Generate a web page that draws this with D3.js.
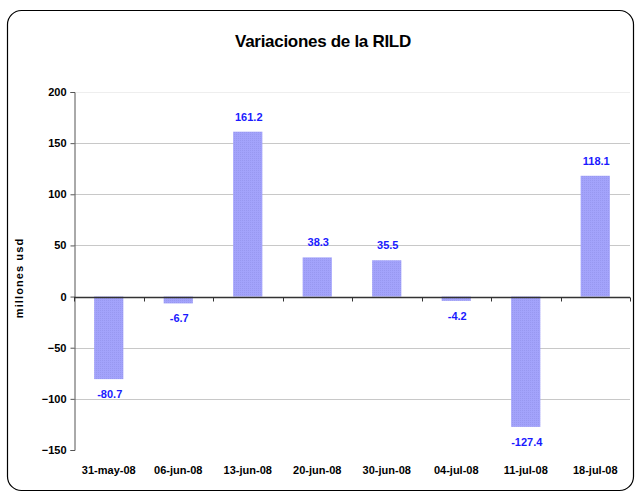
<!DOCTYPE html>
<html><head><meta charset="utf-8">
<script src="https://cdn.jsdelivr.net/npm/d3@7"></script>
<style>body{margin:0;background:#fff;}svg{display:block;font-family:Arial,"Liberation Sans",sans-serif;}</style>
</head><body>
<svg id="c" width="635" height="492"></svg>
<script>
const categories = ["31-may-08","06-jun-08","13-jun-08","20-jun-08","30-jun-08","04-jul-08","11-jul-08","18-jul-08"];
const values = [-80.7,-6.7,161.2,38.3,35.5,-4.2,-127.4,118.1];
const yTicks = [-150,-100,-50,0,50,100,150,200];

const svg = d3.select("#c");
const defs = svg.append("defs");
const pat = defs.append("pattern").attr("id","dots").attr("width",2).attr("height",2).attr("patternUnits","userSpaceOnUse");
pat.append("rect").attr("width",2).attr("height",2).attr("fill","#a3a3fb");
pat.append("rect").attr("width",1).attr("height",1).attr("fill","#9898f0");

svg.append("rect").attr("x",7.5).attr("y",10.5).attr("width",626).attr("height",480)
  .attr("rx",14).attr("fill","#fff").attr("stroke","#000").attr("stroke-width",1.2);

const x = d3.scaleBand().domain(categories).range([74,630]).paddingInner(0.58).paddingOuter(0.29);
const y = d3.scaleLinear().domain([-150,200]).range([450,92]);

svg.append("text").attr("x",323).attr("y",47).attr("text-anchor","middle")
  .attr("font-size",17).attr("font-weight","bold").attr("letter-spacing",-0.3).text("Variaciones de la RILD");

// gridlines
svg.append("g").selectAll("line").data(yTicks.filter(d=>d!==0 && d!==-150)).join("line")
  .attr("x1",74).attr("x2",630).attr("y1",d=>Math.round(y(d))+0.5).attr("y2",d=>Math.round(y(d))+0.5)
  .attr("stroke",d=>d===200?"#eeeeee":"#c8c8c8").attr("stroke-width",1);

// y axis
const ya = svg.append("g").attr("transform","translate(74.5,0)")
  .call(d3.axisLeft(y).tickValues(yTicks).tickSize(4).tickFormat(d3.format("d")));
ya.select(".domain").attr("stroke","#555");
ya.selectAll(".tick line").attr("stroke","#555");
ya.selectAll(".tick text").attr("font-size",11).attr("font-weight","bold").attr("fill","#000")
  .attr("font-family","Arial, 'Liberation Sans', sans-serif").attr("dx",-1);

// bars
svg.append("g").selectAll("rect").data(values).join("rect")
  .attr("x",(d,i)=>x(categories[i])).attr("width",x.bandwidth())
  .attr("y",d=>y(Math.max(0,d))).attr("height",d=>Math.abs(y(d)-y(0)))
  .attr("fill","url(#dots)");

// x axis at zero
const step = x.step();
const xa = svg.append("g").attr("transform",`translate(0,${Math.round(y(0))+0.5})`);
xa.append("line").attr("x1",74).attr("x2",630).attr("stroke","#333").attr("stroke-width",1.3);
xa.selectAll("line.tk").data(d3.range(categories.length+1)).join("line").attr("class","tk")
  .attr("x1",i=>Math.round(74+i*step)+0.5).attr("x2",i=>Math.round(74+i*step)+0.5).attr("y1",0).attr("y2",4)
  .attr("stroke","#333");

// category labels
svg.append("g").selectAll("text").data(categories).join("text")
  .attr("x",d=>x(d)+x.bandwidth()/2).attr("y",474).attr("text-anchor","middle")
  .attr("font-size",11).attr("font-weight","bold").text(d=>d);

// value labels
svg.append("g").selectAll("text").data(values).join("text")
  .attr("x",(d,i)=>x(categories[i])+x.bandwidth()/2+1)
  .attr("y",d=>d>=0?y(d)-11:y(d)+19).attr("text-anchor","middle")
  .attr("font-size",11).attr("font-weight","bold").attr("fill","#1a1aff").text(d=>d.toFixed(1));

// y label
svg.append("text").attr("transform","translate(23,278) rotate(-90)").attr("text-anchor","middle")
  .attr("font-size",11).attr("font-weight","bold").attr("letter-spacing",1.1).text("millones usd");
</script>
</body></html>
